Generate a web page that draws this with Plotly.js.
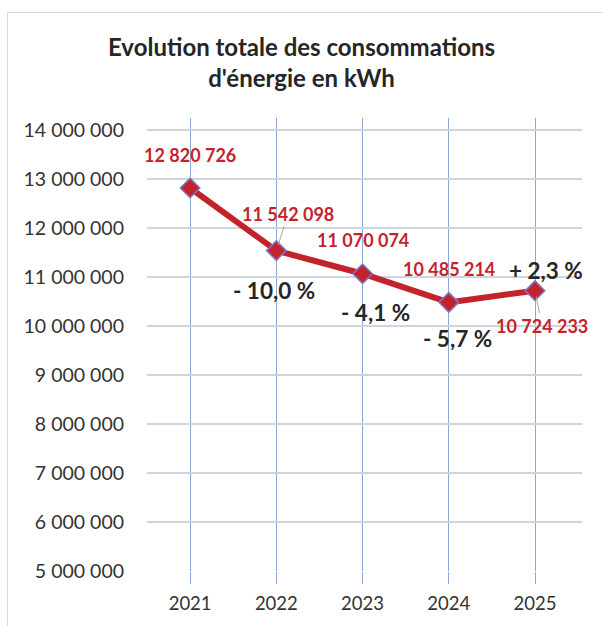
<!DOCTYPE html>
<html>
<head>
<meta charset="utf-8">
<script src="https://cdn.plot.ly/plotly-3.0.1.min.js"></script>
<style>
  html, body { margin: 0; padding: 0; background: #ffffff; }
  #frame { position: absolute; left: 7px; top: 12px; width: 620px; height: 640px;
           border-left: 1.5px solid #d9d9d9; border-top: 1.5px solid #d9d9d9; }
  #chart { position: absolute; left: 0; top: 0; width: 603px; height: 626px; }
</style>
</head>
<body>
<div id="frame"></div>
<div id="chart"></div>
<script>
const years = ['2021', '2022', '2023', '2024', '2025'];
const consumption = [12820726, 11542098, 11070074, 10485214, 10724233];
const valueLabels = ['12 820 726', '11 542 098', '11 070 074', '10 485 214', '10 724 233'];
const changeLabels = ['', '- 10,0 %', '- 4,1 %', '- 5,7 %', '+ 2,3 %'];
const yTickVals = [5000000, 6000000, 7000000, 8000000, 9000000, 10000000, 11000000, 12000000, 13000000, 14000000];
const yTickText = ['5 000 000', '6 000 000', '7 000 000', '8 000 000', '9 000 000', '10 000 000', '11 000 000', '12 000 000', '13 000 000', '14 000 000'];

const FONT = 'Lato, "Open Sans", sans-serif';
const RED = '#C3242C';

// per-point label offsets (pixels): value labels and change labels
const valueShift = [[0, 33], [12, 37], [0, 34], [0, 33], [7, -35]];
const changeShift = [[0, 0], [-2, -40], [13, -39], [9, -36], [11, 20]];
const withLeader = [false, true, false, false, true];

const annotations = [];
years.forEach((yr, i) => {
  // category axis: reference the point by its category index
  if (withLeader[i]) {
    annotations.push({
      x: i, y: consumption[i], xref: 'x', yref: 'y',
      text: '<b>' + valueLabels[i] + '</b>',
      showarrow: true, arrowhead: 0, arrowwidth: 1, arrowcolor: '#a6a6a6',
      ax: valueShift[i][0], ay: -valueShift[i][1], standoff: 6,
      font: { family: FONT, size: 18, weight: 700, color: RED }
    });
  } else {
    annotations.push({
      x: i, y: consumption[i], xref: 'x', yref: 'y',
      text: '<b>' + valueLabels[i] + '</b>',
      showarrow: false, xshift: valueShift[i][0], yshift: valueShift[i][1],
      font: { family: FONT, size: 18, weight: 700, color: RED }
    });
  }
  if (changeLabels[i]) {
    annotations.push({
      x: i, y: consumption[i], xref: 'x', yref: 'y',
      text: '<b>' + changeLabels[i] + '</b>',
      showarrow: false, xshift: changeShift[i][0], yshift: changeShift[i][1],
      font: { family: FONT, size: 22.5, color: '#262626' }
    });
  }
});

const trace = {
  x: years, y: consumption, type: 'scatter', mode: 'lines+markers',
  line: { color: RED, width: 6 },
  marker: { symbol: 'diamond', size: 15, color: RED, line: { color: '#7a78c4', width: 1.5 } },
  hoverinfo: 'skip', cliponaxis: false
};

const layout = {
  width: 603, height: 626,
  margin: { l: 147, r: 21, t: 118, b: 55 },
  paper_bgcolor: 'rgba(0,0,0,0)', plot_bgcolor: 'rgba(0,0,0,0)',
  showlegend: false,
  title: {
    text: '<b>Evolution totale des consommations<br>d\'énergie en kWh</b>',
    x: 0.5, xref: 'container', xanchor: 'center',
    y: 1 - 56 / 626, yref: 'container', yanchor: 'top',
    font: { family: FONT, size: 24, color: '#262626' }
  },
  xaxis: {
    type: 'category', range: [-0.5, 4.545],
    showgrid: true, gridcolor: '#8EA9CF', gridwidth: 1,
    ticks: 'outside', ticklen: 12, tickcolor: '#8EA9CF', tickwidth: 1,
    showline: false, zeroline: false,
    ticklabelstandoff: 4,
    tickfont: { family: FONT, size: 18.5, color: '#333333' }
  },
  yaxis: {
    range: [5000000, 14250000],
    tickvals: yTickVals, ticktext: yTickText,
    showgrid: true, gridcolor: '#CDD5E0', gridwidth: 2,
    zeroline: false, showline: false, ticks: '',
    ticklabelstandoff: 22,
    tickfont: { family: FONT, size: 19.5, color: '#333333' }
  },
  annotations: annotations
};

Plotly.newPlot('chart', [trace], layout, { staticPlot: true, displayModeBar: false });
</script>
</body>
</html>
